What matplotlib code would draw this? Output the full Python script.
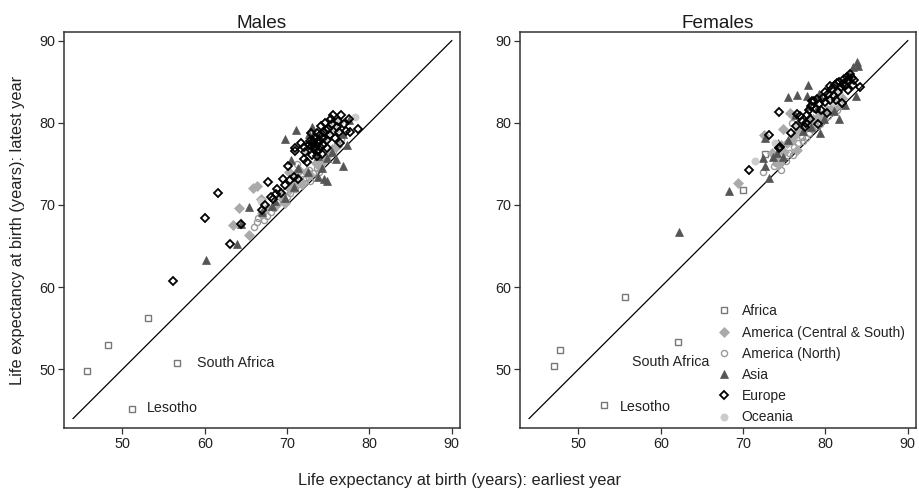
import numpy as np
import matplotlib
matplotlib.use("Agg")
import matplotlib.pyplot as plt

plt.rcParams['font.family'] = ['Liberation Sans', 'DejaVu Sans']

# ---- data: (earliest year, latest year) life expectancy ----
# Males
m_africa_x = [45.7, 48.3, 53.1, 56.6, 51.2]
m_africa_y = [49.8, 52.9, 56.2, 50.8, 45.2]

m_amcs_x = [63.4, 64.1, 65.4, 65.9, 66.3, 66.8, 67.0, 67.6, 68.6, 69.3, 69.8, 70.4, 70.8,
            71.2, 71.8, 72.3, 72.8, 73.5, 74.0, 74.5, 75.0, 75.5, 76.0, 70.2, 71.5]
m_amcs_y = [67.6, 69.6, 66.3, 72.1, 72.3, 70.7, 69.0, 69.6, 70.0, 71.2, 70.2, 72.0, 72.7,
            73.9, 72.6, 74.0, 73.6, 75.1, 74.6, 75.5, 76.1, 76.8, 77.2, 74.0, 74.2]

m_amn_x = [66.0, 66.3, 66.5, 66.9, 67.5, 68.0, 68.4, 68.8, 69.6, 70.0, 70.4, 70.9, 71.2, 71.5,
           71.9, 72.3, 72.8, 73.2, 73.6, 74.2, 74.7, 75.1, 75.6, 76.1, 76.6, 69.9, 72.6, 73.9, 67.2]
m_amn_y = [67.3, 67.9, 68.4, 68.8, 68.7, 69.2, 69.6, 70.3, 70.5, 71.0, 71.4, 72.0, 75.0, 72.5,
           73.1, 73.3, 72.9, 73.9, 74.5, 75.2, 75.7, 76.3, 76.6, 77.4, 78.0, 71.8, 74.3, 74.0, 68.2]

m_asia_x = [60.2, 63.9, 65.4, 66.9, 68.2, 68.5, 69.7, 70.5, 71.1, 72.6, 73.0, 72.5, 73.7, 74.5,
            74.8, 74.9, 75.5, 75.9, 76.8, 77.3, 77.5, 73.8, 74.2, 71.3, 69.8, 70.8, 75.8, 76.8, 64.4]
m_asia_y = [63.3, 65.2, 69.8, 69.2, 69.9, 70.5, 78.0, 75.5, 79.1, 78.6, 79.5, 74.0, 73.4, 73.2,
            72.9, 75.7, 76.5, 75.6, 74.8, 77.3, 80.3, 76.0, 74.5, 74.5, 70.8, 72.2, 79.8, 78.6, 67.7]

m_europe_x = [56.1, 60.0, 61.6, 63.1, 64.4, 66.9, 67.3, 67.7, 68.0, 68.3, 68.6, 68.8, 69.2, 69.5,
              69.8, 70.1, 70.3, 70.8, 70.9, 71.0, 71.3, 71.7, 72.0, 72.2, 72.4, 72.6, 72.9, 73.0,
              73.2, 73.4, 73.5, 73.7, 73.8, 74.0, 74.1, 74.3, 74.5, 74.6, 74.8, 75.0, 75.2, 75.3,
              75.6, 75.8, 76.0, 76.2, 76.4, 76.6, 76.9, 77.2, 77.5, 77.6, 78.6, 73.6, 74.2, 73.0,
              72.1, 74.9, 73.3, 73.9, 74.4, 73.1, 74.7, 75.4, 72.8, 73.6, 74.0, 76.3]
m_europe_y = [60.8, 68.4, 71.5, 65.2, 67.7, 69.4, 70.0, 72.8, 71.0, 70.7, 71.3, 72.0, 71.5, 73.2,
              72.4, 74.7, 73.0, 73.4, 76.9, 76.6, 73.2, 77.5, 75.6, 76.4, 75.2, 77.3, 78.8, 76.1,
              77.8, 77.0, 78.2, 76.6, 77.6, 78.5, 79.6, 77.3, 78.9, 80.0, 77.9, 79.3, 78.5, 80.4,
              80.9, 78.1, 79.5, 80.2, 77.6, 80.9, 79.8, 79.0, 80.4, 78.9, 79.2, 75.9, 76.2, 77.2,
              77.0, 76.9, 76.8, 77.9, 78.1, 77.5, 79.1, 79.9, 77.8, 78.7, 77.1, 78.9]

m_ocean_x = [66.8, 70.9, 74.9, 75.3, 75.6, 75.9, 76.1, 76.4, 78.2, 73.4, 72.3]
m_ocean_y = [70.5, 73.3, 78.2, 79.0, 79.6, 80.0, 79.3, 80.2, 80.7, 77.4, 76.6]

# Females
f_africa_x = [47.0, 47.8, 55.7, 62.15, 53.1, 70.0, 72.7]
f_africa_y = [50.45, 52.4, 58.8, 53.3, 45.7, 71.8, 76.2]

f_amcs_x = [69.4, 72.5, 74.9, 75.7, 73.5, 74.0, 74.6, 75.0, 75.3, 75.9, 76.2, 76.8, 77.4, 77.9,
            78.5, 79.1, 79.6, 80.2, 80.8, 81.4, 82.0, 76.5, 74.3]
f_amcs_y = [72.7, 78.5, 79.2, 81.2, 76.3, 75.9, 77.3, 76.4, 77.6, 77.9, 78.4, 79.1, 79.3, 80.0,
            80.4, 80.7, 81.0, 81.5, 81.8, 82.2, 83.0, 76.7, 75.0]

f_amn_x = [72.4, 73.7, 74.2, 74.6, 75.2, 75.6, 75.9, 76.2, 76.7, 77.1, 77.6, 78.0, 78.4, 78.9,
           79.3, 79.8, 80.3, 80.9, 81.4, 77.3, 76.0, 74.0]
f_amn_y = [74.0, 74.8, 75.4, 74.2, 75.3, 76.3, 80.0, 77.1, 77.6, 78.3, 78.1, 78.8, 79.2, 79.6,
           79.9, 80.3, 80.8, 81.3, 81.6, 77.8, 76.1, 75.1]

f_asia_x = [62.2, 68.3, 72.7, 73.2, 72.7, 72.4, 73.6, 74.2, 74.1, 75.4, 76.5, 77.9, 77.8, 78.0,
            76.3, 76.8, 77.3, 78.2, 79.0, 79.4, 79.8, 81.6, 81.0, 82.4, 83.7, 83.8, 83.4, 83.9,
            82.9, 79.2, 80.6, 74.8, 75.5]
f_asia_y = [66.7, 71.7, 74.7, 73.3, 78.1, 75.7, 75.8, 77.5, 76.3, 83.1, 83.4, 84.6, 83.2, 82.0,
            80.9, 79.8, 79.0, 79.5, 81.8, 78.7, 80.5, 80.5, 81.4, 82.2, 83.2, 87.4, 86.8, 86.9,
            85.8, 83.5, 84.2, 75.8, 77.9]

f_europe_x = [70.7, 73.1, 74.4, 74.5, 74.4, 75.8, 76.4, 76.6, 76.9, 77.2, 77.5, 77.8, 78.1, 78.3,
              78.6, 78.9, 79.2, 79.5, 79.7, 80.0, 80.3, 80.5, 80.8, 81.0, 81.2, 81.5, 81.7, 81.9,
              82.0, 82.2, 82.4, 82.6, 82.8, 83.0, 83.3, 83.5, 84.2, 81.3, 80.2, 79.1,
              77.6, 78.0, 78.4, 79.0, 79.9, 80.6, 81.4, 82.1, 82.7, 83.2]
f_europe_y = [74.2, 78.5, 81.3, 77.1, 76.9, 78.8, 79.6, 81.1, 80.8, 80.2, 79.5, 81.0, 80.4, 82.1,
              82.7, 81.7, 82.3, 81.5, 83.0, 82.5, 83.5, 82.8, 84.1, 83.3, 84.6, 83.8, 85.0, 84.3,
              82.4, 85.3, 84.5, 85.6, 84.0, 85.9, 84.6, 85.2, 84.3, 82.8, 81.2, 79.8,
              80.0, 81.6, 82.6, 82.9, 83.8, 84.5, 84.9, 84.7, 85.2, 85.5]

f_ocean_x = [71.5, 73.9, 76.6, 80.3, 80.9, 81.3, 81.7, 82.1, 82.5, 82.9, 81.5, 81.0]
f_ocean_y = [75.3, 77.6, 79.7, 83.2, 83.8, 84.2, 84.4, 84.9, 84.6, 85.1, 83.6, 82.5]

regions = ['Africa', 'America (Central & South)', 'America (North)', 'Asia', 'Europe', 'Oceania']
styles = {
    'Africa': dict(marker='s', ms=4.0, mfc='none', mec='#777777', mew=1.0),
    'America (Central & South)': dict(marker='D', ms=4.8, mfc='#aaaaaa', mec='#aaaaaa', mew=0.5),
    'America (North)': dict(marker='o', ms=4.4, mfc='none', mec='#9a9a9a', mew=1.0),
    'Asia': dict(marker='^', ms=5.4, mfc='#555555', mec='#555555', mew=0.5),
    'Europe': dict(marker='D', ms=4.4, mfc='none', mec='#000000', mew=1.3),
    'Oceania': dict(marker='o', ms=5.2, mfc='#cccccc', mec='#cccccc', mew=0.5),
}

males = {
    'Africa': (m_africa_x, m_africa_y),
    'America (Central & South)': (m_amcs_x, m_amcs_y),
    'America (North)': (m_amn_x, m_amn_y),
    'Asia': (m_asia_x, m_asia_y),
    'Europe': (m_europe_x, m_europe_y),
    'Oceania': (m_ocean_x, m_ocean_y),
}
females = {
    'Africa': (f_africa_x, f_africa_y),
    'America (Central & South)': (f_amcs_x, f_amcs_y),
    'America (North)': (f_amn_x, f_amn_y),
    'Asia': (f_asia_x, f_asia_y),
    'Europe': (f_europe_x, f_europe_y),
    'Oceania': (f_ocean_x, f_ocean_y),
}

# label positions (text start) for highlighted countries
m_labels = [('South Africa', 59.0, 50.8), ('Lesotho', 53.0, 45.25)]
f_labels = [('South Africa', 56.55, 50.85), ('Lesotho', 55.05, 45.35)]

fig = plt.figure(figsize=(9.19, 4.95), dpi=100)
ax1 = fig.add_axes([64 / 919, 67 / 495, 396 / 919, 396 / 495])
ax2 = fig.add_axes([520 / 919, 67 / 495, 396 / 919, 396 / 495])

draw_order = ['Africa', 'America (North)', 'America (Central & South)', 'Asia', 'Oceania', 'Europe']

for ax, data, labels, title in [(ax1, males, m_labels, 'Males'), (ax2, females, f_labels, 'Females')]:
    ax.plot([44, 90], [44, 90], color='black', lw=0.9, zorder=1)
    handles = {}
    for reg in draw_order:
        x, y = data[reg]
        h, = ax.plot(x, y, linestyle='none', label=reg, zorder=2, **styles[reg])
        handles[reg] = h
    for txt, tx, ty in labels:
        ax.text(tx, ty, txt, fontsize=10.3, ha='left', va='center', color='#222222')
    ax.set_xlim(42.9, 91.0)
    ax.set_ylim(42.85, 91.05)
    ax.set_xticks([50, 60, 70, 80, 90])
    ax.set_yticks([50, 60, 70, 80, 90])
    ax.tick_params(labelsize=10.4, length=4, width=0.9, pad=2.5,
                   color='#333333', labelcolor='#222222')
    for s in ax.spines.values():
        s.set_linewidth(1.1)
        s.set_color('#333333')
    ax.set_title(title, fontsize=13.7, pad=3, color='#1a1a1a')

leg = ax2.legend([handles[r] for r in regions], regions, loc='lower right',
                 bbox_to_anchor=(0.985, -0.005), frameon=False, fontsize=10,
                 handlelength=1.0, handletextpad=0.8, labelspacing=0.52,
                 borderaxespad=0.0)
for t in leg.get_texts():
    t.set_color('#222222')

fig.text(18 / 919, 1 - 230 / 495, 'Life expectancy at birth (years): latest year',
         rotation=90, ha='center', va='center', fontsize=11.8, color='#222222')
fig.text(460 / 919, 1 - 481 / 495, 'Life expectancy at birth (years): earliest year',
         ha='center', va='center', fontsize=11.8, color='#222222')

fig.savefig('out.png', dpi=100)
